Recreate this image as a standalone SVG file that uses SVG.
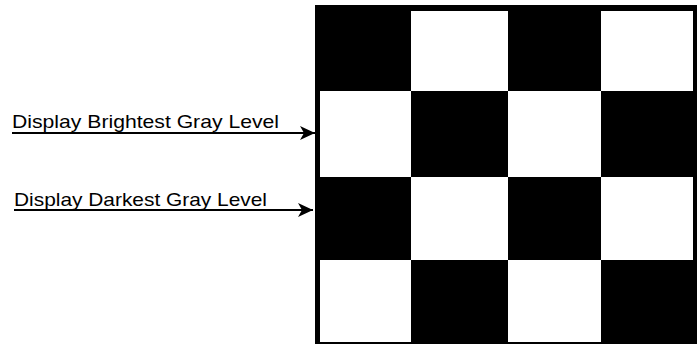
<svg xmlns="http://www.w3.org/2000/svg" width="697" height="344" viewBox="0 0 697 344">
<style>
.lbl{font-family:"Liberation Sans",Arial,sans-serif;font-size:19px;fill:#000}
.conn{stroke:#000;stroke-width:2;fill:none}
.w{fill:#fff}
</style>
<defs>
<marker id="ah" markerUnits="userSpaceOnUse" markerWidth="16" markerHeight="16" viewBox="0 0 16 16" refX="15" refY="8" orient="auto">
<path d="M0,1 L15,8 L0,15 L4,8 Z" fill="#000"/>
</marker>
</defs>
<rect width="697" height="344" fill="#fff"/>
<g id="board">
<rect x="315" y="5" width="382" height="339" fill="#000"/>
<rect class="w" x="411" y="11" width="97" height="80"/>
<rect class="w" x="601" y="11" width="92" height="80"/>
<rect class="w" x="320" y="91" width="91" height="86"/>
<rect class="w" x="508" y="91" width="93" height="86"/>
<rect class="w" x="411" y="177" width="97" height="83"/>
<rect class="w" x="601" y="177" width="92" height="83"/>
<rect class="w" x="320" y="260" width="91" height="82"/>
<rect class="w" x="508" y="260" width="93" height="82"/>
</g>
<g id="label-bright">
<text class="lbl" x="12" y="128" textLength="267" lengthAdjust="spacingAndGlyphs">Display Brightest Gray Level</text>
</g>
<g id="label-dark">
<text class="lbl" x="14" y="206" textLength="253" lengthAdjust="spacingAndGlyphs">Display Darkest Gray Level</text>
</g>
<g id="connectors">
<line class="conn" x1="12" y1="133" x2="315" y2="133" marker-end="url(#ah)"/>
<line class="conn" x1="14" y1="210" x2="313" y2="210" marker-end="url(#ah)"/>
</g>
</svg>
